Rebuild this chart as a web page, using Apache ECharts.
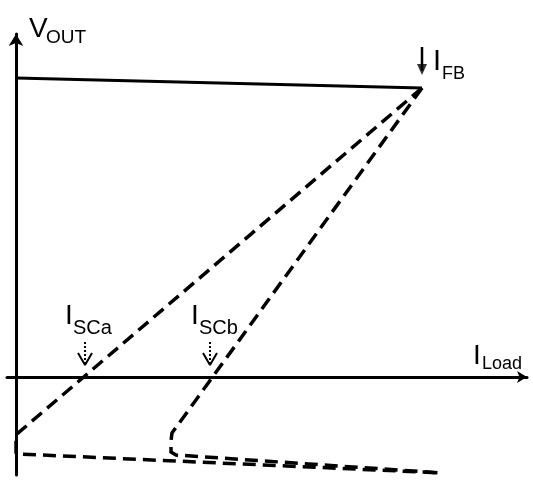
<!DOCTYPE html>
<html>
<head>
<meta charset="utf-8">
<title>Foldback current limit</title>
<script src="https://cdn.jsdelivr.net/npm/echarts@6/dist/echarts.min.js"></script>
<style>
	* { margin: 0; padding: 0 }
	html, body { width: 100%; height: 100%; background: #fff; }
	#main { width: 533px; height: 480px; }
</style>
</head>
<body>
<div id="main"></div>
<script>
	// x = load current, y = output voltage (I_FB point at 10, 10)
	var regulated = [[0, 10.35], [10, 10]];
	var foldbackA = [[10, 10], [0, -2.0], [0, -2.66], [10.49, -3.32]];
	var foldbackB = [[10, 10], [3.842, -1.938], [3.818, -2.215], [3.818, -2.595], [3.941, -2.699], [10.49, -3.32]];

	// marker arrows
	var ifbX = 10;
	var ifbShaft = [11.42, 10.6];
	var ifbHeadY = 10.64;
	var iscX = [1.70, 4.778];
	var iscShaft = [1.211, 0.48];
	var iscTip = 0.415, iscArm = 0.83, iscHalf = 0.172;

	var FONT = '"Liberation Sans", Arial, sans-serif';

	var series = [];
	series.push({
		type: 'line', data: regulated, symbol: 'none', silent: true,
		lineStyle: { color: '#000', width: 3 }
	});
	[foldbackA, foldbackB].forEach(function(d) {
		series.push({
			type: 'line', data: d, symbol: 'none', silent: true,
			lineStyle: { color: '#000', width: 3.5, type: [13, 7], cap: 'butt', join: 'miter' }
		});
	});
	// I_FB solid arrow
	series.push({
		type: 'line', data: [[ifbX, ifbShaft[0]], [ifbX, ifbShaft[1]]], symbol: 'none', silent: true,
		lineStyle: { color: '#000', width: 2.5 }
	});
	series.push({
		type: 'scatter', data: [[ifbX, ifbHeadY]], symbol: 'triangle', symbolRotate: 180,
		symbolSize: [10, 11], itemStyle: { color: '#000' }, silent: true
	});
	// I_SC dotted arrows
	iscX.forEach(function(x) {
		series.push({
			type: 'line', data: [[x, iscShaft[0]], [x, iscShaft[1]]], symbol: 'none', silent: true,
			lineStyle: { color: '#000', width: 2, type: 'dotted' }
		});
		series.push({
			type: 'line', data: [[x - iscHalf, iscArm], [x, iscTip], [x + iscHalf, iscArm]], symbol: 'none', silent: true,
			lineStyle: { color: '#000', width: 2 }
		});
	});

	function label(text, x, y, size) {
		return {
			type: 'text', left: x, top: y, silent: true,
			style: { text: text, font: size + 'px ' + FONT, fill: '#000' }
		};
	}

	var chart = echarts.init(document.getElementById('main'));
	chart.setOption({
		animation: false,
		backgroundColor: '#fff',
		grid: { left: 7, right: 6, top: 34, bottom: 5 },
		xAxis: {
			type: 'value', min: -0.2217, max: 12.586,
			axisLine: { onZero: true, symbol: ['none', 'arrow'], symbolSize: [9, 10], lineStyle: { color: '#000', width: 3 } },
			axisTick: { show: false }, axisLabel: { show: false }, splitLine: { show: false }
		},
		yAxis: {
			type: 'value', min: -3.391, max: 11.869,
			axisLine: { onZero: true, symbol: ['none', 'arrow'], symbolSize: [11, 12], lineStyle: { color: '#000', width: 3 } },
			axisTick: { show: false }, axisLabel: { show: false }, splitLine: { show: false }
		},
		graphic: [
			label('V', 29, 15, 28), label('OUT', 46, 28, 19),
			label('I', 433, 47, 29), label('FB', 442, 65, 18),
			label('I', 65, 302, 28), label('SCa', 73, 318, 20),
			label('I', 191, 302, 28), label('SCb', 199, 318, 20),
			label('I', 473, 342, 28), label('Load', 482, 355, 18)
		],
		series: series
	});
</script>
</body>
</html>
